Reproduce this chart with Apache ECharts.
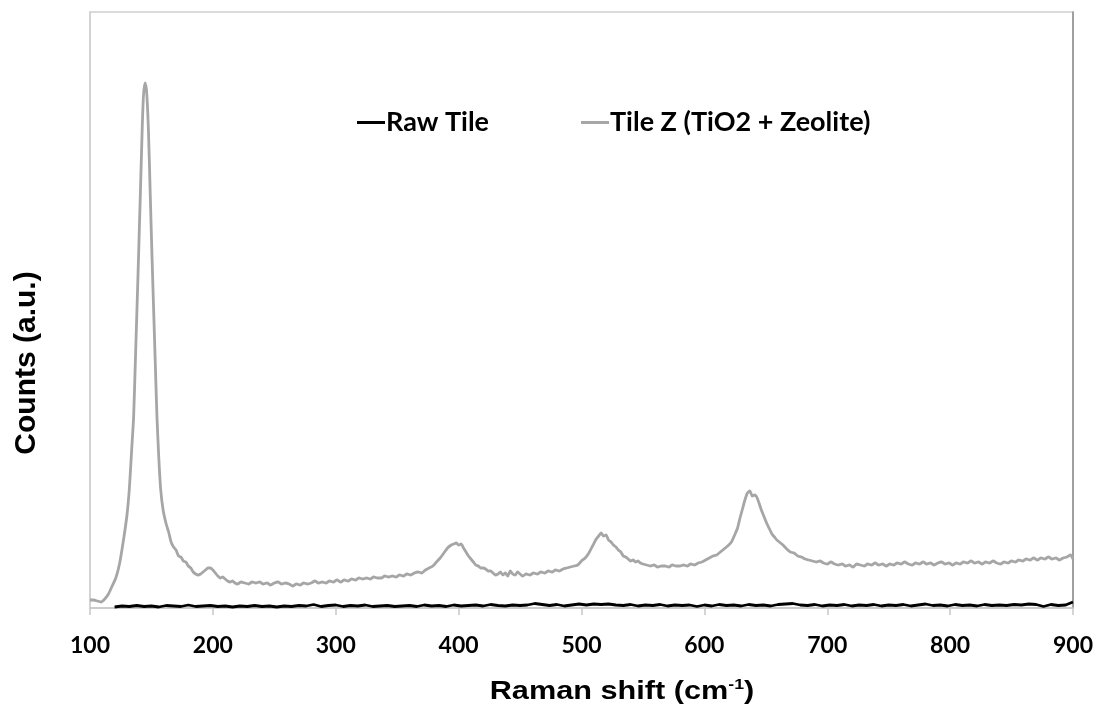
<!DOCTYPE html>
<html style="height: 100%">
  <head>
    <meta charset="utf-8" />
  </head>
  <body style="height: 100%; margin: 0; background: #fff">
    <div id="container" style="width: 1099px; height: 713px"></div>

    <script
      type="text/javascript"
      src="https://cdn.jsdelivr.net/npm/echarts@6/dist/echarts.min.js"
    ></script>

    <script type="text/javascript">
      // x axis ticks (Raman shift, cm-1)
      var shiftTicks = [100, 200, 300, 400, 500, 600, 700, 800, 900];

      // Tile Z (TiO2 + Zeolite) (arbitrary counts)
      var tileZShift = [
        100, 103, 106, 109, 112, 115, 118, 121, 124, 127, 130, 132, 134, 135.5, 137, 139, 141, 142.5, 143.5, 144.8,
        146, 147.5, 149, 150.5, 152, 153, 154.5, 156, 157.5, 159.5, 162, 164, 166, 168, 170, 172, 174, 176, 178, 180,
        182, 184, 186, 188, 190, 192, 194, 196, 198, 200, 202, 204, 206, 208, 210, 212, 214, 216, 218, 220,
        223, 226, 229, 232, 235, 238, 241, 244, 247, 250, 253, 256, 259, 262, 265, 268, 271, 274, 277, 280,
        283, 286, 289, 292, 295, 298, 301, 304, 307, 310, 313, 316, 319, 322, 325, 328, 331, 334, 337, 340,
        343, 346, 349, 352, 355, 358, 361, 364, 367, 370, 373, 376, 379, 382, 385, 388, 391, 394, 396, 398,
        400, 402, 404, 406, 408, 410, 412, 414, 416, 418, 420, 422, 424, 426, 428, 430, 432, 434, 436, 438,
        440, 442, 444, 446, 448, 450, 452, 455, 458, 461, 464, 467, 470, 473, 476, 479, 482, 485, 488, 491,
        494, 497, 500, 503, 506, 509, 512, 514, 516, 518, 520, 522, 524, 526, 528, 530, 532, 534, 536, 538,
        540, 542, 544, 546, 548, 550, 553, 556, 559, 562, 565, 568, 571, 574, 577, 580, 583, 586, 589, 592,
        595, 598, 601, 604, 607, 610, 613, 616, 619, 622, 625, 627, 629, 631, 633, 635, 637, 639, 641, 643,
        645, 647, 649, 651, 653, 655, 657, 659, 661, 664, 667, 670, 673, 676, 679, 682, 685, 688, 691, 694,
        697, 700, 703, 706, 709, 712, 715, 718, 721, 724, 727, 730, 733, 736, 739, 742, 745, 748, 751, 754,
        757, 760, 763, 766, 769, 772, 775, 778, 781, 784, 787, 790, 793, 796, 799, 802, 805, 808, 811, 814,
        817, 820, 823, 826, 829, 832, 835, 838, 841, 844, 847, 850, 853, 856, 859, 862, 865, 868, 871, 874,
        877, 880, 883, 886, 889, 892, 895, 898, 900
      ];
      var tileZCounts = [
        8, 8, 7, 6, 9, 14, 22, 30, 44, 66, 92, 119, 160, 191, 250, 330, 415, 480, 512, 525,
        518, 480, 415, 350, 290, 250, 191, 150, 119, 98, 84, 76, 66, 61, 58, 52, 51, 47, 46, 42,
        40, 36, 34, 33, 34, 36, 38, 40, 40, 38, 35, 32, 30, 31, 29, 27, 26, 27, 25, 24,
        26, 25, 24, 26, 25, 26, 24, 25, 23, 25, 26, 24, 25, 24, 22, 24, 23, 25, 24, 25,
        27, 25, 26, 25, 27, 26, 28, 26, 28, 27, 29, 28, 30, 29, 30, 29, 31, 30, 30, 32,
        31, 32, 31, 33, 32, 34, 33, 35, 36, 35, 38, 40, 42, 46, 50, 55, 60, 63, 64, 65,
        63, 64, 60, 56, 52, 49, 46, 43, 42, 40, 40, 39, 37, 37, 35, 33, 34, 36, 33, 35,
        32, 37, 34, 33, 36, 34, 32, 34, 33, 35, 34, 36, 35, 37, 36, 38, 37, 39, 40, 41,
        42, 43, 47, 50, 55, 62, 69, 72, 75, 72, 73, 68, 66, 63, 61, 58, 56, 52, 51, 49,
        47, 48, 46, 47, 45, 44, 43, 42, 43, 41, 42, 42, 41, 43, 42, 42, 43, 42, 44, 43,
        45, 46, 48, 50, 52, 53, 56, 59, 62, 66, 74, 80, 90, 99, 108, 115, 117, 112, 113, 110,
        103, 96, 90, 84, 79, 74, 71, 68, 66, 63, 59, 56, 55, 52, 51, 49, 48, 47, 46, 47,
        45, 44, 46, 44, 43, 44, 42, 43, 41, 44, 43, 42, 44, 43, 45, 43, 44, 42, 44, 43,
        45, 44, 46, 44, 43, 45, 44, 46, 44, 45, 43, 45, 46, 44, 45, 43, 45, 44, 46, 45,
        47, 45, 46, 44, 46, 45, 47, 45, 44, 46, 45, 47, 46, 48, 47, 49, 48, 50, 48, 50,
        49, 51, 49, 50, 48, 50, 51, 53, 49
      ];

      // Raw Tile
      var rawShift = [
        120, 126, 132, 138, 144, 150, 156, 162, 168, 174, 180, 186, 192, 198, 204, 210, 216, 222, 228, 234,
        240, 246, 252, 258, 264, 270, 276, 282, 288, 294, 300, 306, 312, 318, 324, 330, 336, 342, 348, 354,
        360, 366, 372, 378, 384, 390, 396, 402, 408, 414, 420, 426, 432, 438, 444, 450, 456, 462, 468, 474,
        480, 486, 492, 498, 504, 510, 516, 522, 528, 534, 540, 546, 552, 558, 564, 570, 576, 582, 588, 594,
        600, 606, 612, 618, 624, 630, 636, 642, 648, 654, 660, 666, 672, 678, 684, 690, 696, 702, 708, 714,
        720, 726, 732, 738, 744, 750, 756, 762, 768, 774, 780, 786, 792, 798, 804, 810, 816, 822, 828, 834,
        840, 846, 852, 858, 864, 870, 876, 882, 888, 894, 900
      ];
      var rawCounts = [
        1, 2, 1.5, 2.5, 1.5, 2, 1, 2.5, 2, 1.5, 3, 1.5, 2, 2.5, 1.5, 2, 1, 2, 1.5, 2.5,
        1.5, 2, 1, 2, 1.5, 2.5, 2, 3.5, 1.5, 2.5, 3, 1.5, 2.5, 2, 3, 1.5, 2, 2.5, 1.5, 2,
        2.5, 1.5, 3, 2, 2.5, 1.5, 3, 2, 2.5, 3, 2, 3.5, 2.5, 2, 3, 2.5, 3, 4.5, 3.5, 2.5,
        3.5, 2, 3, 4, 3, 4, 3.5, 4, 3, 2.5, 3.5, 2, 3, 2.5, 3.5, 2, 3, 2.5, 3, 1.5,
        3, 2, 3.5, 2.5, 3, 2, 3.5, 2.5, 3, 2, 3.5, 4, 4.5, 3, 2.5, 3.5, 2, 3, 2.5, 3.5,
        2, 3, 2.5, 3.5, 2, 3, 2.5, 3.5, 2, 3, 4, 2.5, 3, 2, 3.5, 2.5, 3, 2, 3.5, 2.5,
        3, 2.5, 3.5, 3, 4, 3.5, 1.5, 3.5, 2.5, 3, 6
      ];

      function pairs(xs, ys) {
        var out = [];
        for (var i = 0; i < xs.length; i++) out.push([xs[i], ys[i]]);
        return out;
      }

      var dom = document.getElementById("container");
      var myChart = echarts.init(dom, null, { renderer: "canvas" });

      var labelFont = "Lato";
      var legendText = {
        fontFamily: labelFont,
        fontWeight: "bold",
        fontSize: 27,
        color: "#000",
        padding: [0, 0, 0, -4],
      };

      var option = {
        backgroundColor: "#ffffff",
        animation: false,
        grid: {
          left: 90,
          right: 26,
          top: 12,
          bottom: 105,
          show: true,
          borderColor: "#d0d0d0",
          borderWidth: 1.5,
        },
        legend: [
          {
            data: ["Raw Tile"],
            left: 357,
            top: 109,
            icon: "rect",
            itemWidth: 28,
            itemHeight: 3,
            padding: 0,
            textStyle: legendText,
          },
          {
            data: ["Tile Z (TiO2 + Zeolite)"],
            left: 581,
            top: 109,
            icon: "rect",
            itemWidth: 28,
            itemHeight: 3,
            padding: 0,
            textStyle: legendText,
          },
        ],
        xAxis: {
          type: "value",
          min: 100,
          max: 900,
          interval: 100,
          axisLine: { show: true, lineStyle: { color: "#c8c8c8", width: 1.5 } },
          axisTick: {
            show: true,
            inside: false,
            length: 7,
            lineStyle: { color: "#c8c8c8", width: 1.5 },
          },
          splitLine: { show: false },
          axisLabel: {
            margin: 26,
            fontFamily: labelFont,
            fontWeight: "bold",
            fontSize: 23,
            color: "#000",
            formatter: function (v) {
              return shiftTicks.indexOf(v) >= 0 ? String(v) : "";
            },
          },
        },
        yAxis: [
          {
            type: "value",
            min: 0,
            max: 596,
            axisLine: { show: true, lineStyle: { color: "#d0d0d0", width: 1.5 } },
            axisTick: { show: false },
            axisLabel: { show: false },
            splitLine: { show: false },
          },
          {
            type: "value",
            position: "right",
            min: 0,
            max: 596,
            axisLine: { show: true, lineStyle: { color: "#8c8c8c", width: 1.5 } },
            axisTick: { show: false },
            axisLabel: { show: false },
            splitLine: { show: false },
          },
        ],
        graphic: [
          {
            type: "text",
            x: 622,
            y: 692,
            scaleX: 1.18,
            style: {
              text: "Raman shift (cm{sup|-1})",
              fontFamily: "Liberation Sans",
              fontWeight: "bold",
              fontSize: 26,
              fill: "#000",
              align: "center",
              verticalAlign: "middle",
              rich: {
                sup: {
                  fontFamily: "Liberation Sans",
                  fontWeight: "bold",
                  fontSize: 15,
                  fill: "#000",
                  padding: [0, 0, 14, 0],
                },
              },
            },
          },
          {
            type: "text",
            x: 27,
            y: 363,
            rotation: Math.PI / 2,
            style: {
              text: "Counts (a.u.)",
              fontFamily: "Liberation Sans",
              fontWeight: "bold",
              fontSize: 30,
              fill: "#000",
              align: "center",
              verticalAlign: "middle",
            },
          },
        ],
        series: [
          {
            name: "Raw Tile",
            type: "line",
            data: pairs(rawShift, rawCounts),
            showSymbol: false,
            symbol: "none",
            smooth: false,
            color: "#000000",
            lineStyle: { color: "#000000", width: 2.8 },
            z: 3,
          },
          {
            name: "Tile Z (TiO2 + Zeolite)",
            type: "line",
            data: pairs(tileZShift, tileZCounts),
            showSymbol: false,
            symbol: "none",
            smooth: 0.2,
            color: "#a6a6a6",
            lineStyle: { color: "#a6a6a6", width: 2.8 },
            z: 2,
          },
        ],
      };

      myChart.setOption(option);
    </script>
  </body>
</html>
